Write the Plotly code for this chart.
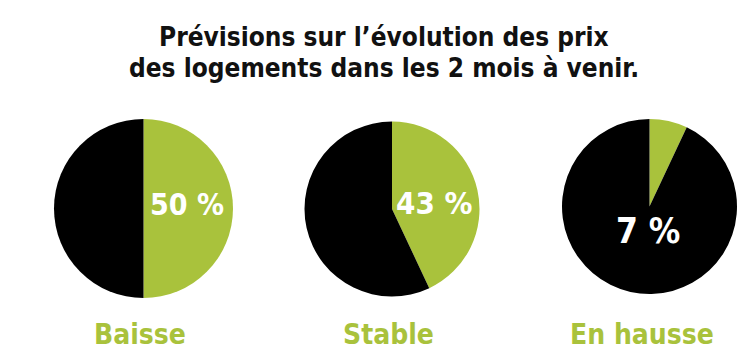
import plotly.graph_objects as go

# page body has an 8px margin; the visible figure area is therefore 742x356
OFF = 8
W, H = 750 - OFF, 364 - OFF

categories = ["Baisse", "Stable", "En hausse"]
green_values = [50, 43, 7]
title_lines = ["Prévisions sur l’évolution des prix", "des logements dans les 2 mois à venir."]

GREEN = "#a9c23c"
BLACK = "#000000"
FONT = "DejaVu Sans Condensed, DejaVu Sans, sans-serif"

# pie geometry in window pixels (centre x, centre y from top, radius)
pie_geo = [(143.5, 208.5, 89.5), (392.0, 209.0, 87.5), (649.5, 206.5, 87.5)]
# percentage label offsets (pixels from pie centre) and sizes
label_off = [(43, -4), (42, -6), (-2, 25)]
label_size = [30, 31, 35]
cat_x = [140, 388.5, 642]


def px_x(x):
    return (x - OFF) / W


def px_y(y):
    return 1 - (y - OFF) / H


fig = go.Figure()
for i, (cat, v) in enumerate(zip(categories, green_values)):
    cx, cy, r = pie_geo[i]
    fig.add_trace(go.Pie(
        labels=[cat + " (oui)", cat + " (autre)"],
        values=[v, 100 - v],
        sort=False,
        direction="clockwise",
        rotation=0,
        textinfo="none",
        hoverinfo="skip",
        showlegend=False,
        marker=dict(colors=[GREEN, BLACK], line=dict(width=0)),
        domain=dict(x=[px_x(cx - r), px_x(cx + r)], y=[px_y(cy + r), px_y(cy - r)]),
    ))

annotations = []
title_y = [37, 68]
for line, ty in zip(title_lines, title_y):
    annotations.append(dict(
        text=f"<b>{line}</b>", x=px_x(384), y=px_y(ty), xref="paper", yref="paper",
        xanchor="center", yanchor="middle", showarrow=False,
        font=dict(family=FONT, size=26, color="#111111"),
    ))
for i, (cat, v) in enumerate(zip(categories, green_values)):
    cx, cy, r = pie_geo[i]
    ox, oy = label_off[i]
    annotations.append(dict(
        text=f"<b>{v} %</b>", x=px_x(cx + ox), y=px_y(cy + oy), xref="paper", yref="paper",
        xanchor="center", yanchor="middle", showarrow=False,
        font=dict(family=FONT, size=label_size[i], color="white"),
    ))
    annotations.append(dict(
        text=f"<b>{cat}</b>", x=px_x(cat_x[i]), y=px_y(334), xref="paper", yref="paper",
        xanchor="center", yanchor="middle", showarrow=False,
        font=dict(family=FONT, size=28, color=GREEN),
    ))

fig.update_layout(
    width=W, height=H,
    margin=dict(l=0, r=0, t=0, b=0),
    paper_bgcolor="white", plot_bgcolor="white",
    annotations=annotations,
    showlegend=False,
)
fig.write_html("out.html")
